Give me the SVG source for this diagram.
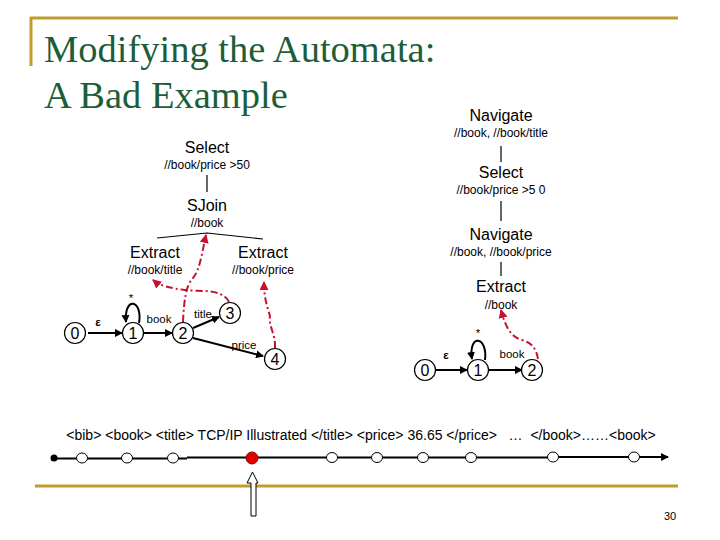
<svg xmlns="http://www.w3.org/2000/svg" width="720" height="540" viewBox="0 0 720 540">
<defs>
<style>
.t{font-family:"Liberation Sans",Arial,sans-serif;fill:#000;text-anchor:middle}
.op{font-size:16px}
.sub{font-size:12px}
.lbl{font-size:11.5px}
.num{font-size:16px}
.title{font-family:"Liberation Serif","Times New Roman",serif;font-size:38.5px;fill:#1d5e3a}
.edge{stroke:#000;stroke-width:2;fill:none}
.tree{stroke:#000;stroke-width:1.2;fill:none}
.st{fill:#fff;stroke:#000;stroke-width:1.2}
.red{stroke:#c8102e;stroke-width:2;fill:none;stroke-dasharray:7 3 2 3}
.gold{stroke:#bf9b30;stroke-width:3}
.tc{fill:#fff;stroke:#000;stroke-width:1}
</style>
<marker id="ah" markerWidth="8" markerHeight="8" refX="7" refY="4" orient="auto" markerUnits="userSpaceOnUse"><path d="M0,0 L8,4 L0,8 z" fill="#000"/></marker>
<marker id="rh" markerWidth="9" markerHeight="9" refX="8" refY="4.5" orient="auto" markerUnits="userSpaceOnUse"><path d="M0,0 L9,4.5 L0,9 z" fill="#c8102e"/></marker>
</defs>
<rect width="720" height="540" fill="#fff"/>
<g id="frame">
<line class="gold" x1="30" y1="18" x2="678" y2="18"/>
<line class="gold" x1="31" y1="17" x2="31" y2="66"/>
<line class="gold" x1="35" y1="486" x2="678" y2="486"/>
</g>
<g id="title">
<text class="title" x="44" y="62">Modifying the Automata:</text>
<text class="title" x="44" y="108">A Bad Example</text>
</g>
<g id="right-tree">
<g id="r-nav1"><text class="t op" x="501" y="121">Navigate</text><text class="t sub" x="501" y="137">//book, //book/title</text></g>
<g id="r-sel"><text class="t op" x="501" y="178">Select</text><text class="t sub" x="501" y="194">//book/price &gt;5 0</text></g>
<g id="r-nav2"><text class="t op" x="501" y="240">Navigate</text><text class="t sub" x="501" y="256">//book, //book/price</text></g>
<g id="r-ext"><text class="t op" x="501" y="292">Extract</text><text class="t sub" x="501" y="309">//book</text></g>
</g>
<g id="left-tree">
<g id="l-sel"><text class="t op" x="207" y="153">Select</text><text class="t sub" x="207" y="169">//book/price &gt;50</text></g>
<g id="l-sjoin"><text class="t op" x="207" y="211">SJoin</text><text class="t sub" x="207" y="227">//book</text></g>
<g id="l-ext1"><text class="t op" x="155" y="258">Extract</text><text class="t sub" x="155" y="274">//book/title</text></g>
<g id="l-ext2"><text class="t op" x="263" y="258">Extract</text><text class="t sub" x="263" y="274">//book/price</text></g>
</g>
<g id="connectors">
<line class="tree" x1="501" y1="146" x2="501" y2="162"/>
<line class="tree" x1="501" y1="201" x2="501" y2="221"/>
<line class="tree" x1="501" y1="262" x2="501" y2="276"/>
<line class="tree" x1="207" y1="175" x2="207" y2="192"/>
<polyline class="tree" points="157,238 207,233 263,239"/>
<line class="edge" x1="88" y1="333" x2="122" y2="333" marker-end="url(#ah)"/>
<line class="edge" x1="144" y1="333" x2="172" y2="333" marker-end="url(#ah)"/>
<line class="edge" x1="193" y1="328" x2="219" y2="317" marker-end="url(#ah)"/>
<line class="edge" x1="193" y1="338" x2="263" y2="356" marker-end="url(#ah)"/>
<path class="edge" d="M139,323 C143,300 124,295 126,322" marker-end="url(#ah)"/>
<line class="edge" x1="436" y1="370" x2="467" y2="370" marker-end="url(#ah)"/>
<line class="edge" x1="489" y1="370" x2="522" y2="370" marker-end="url(#ah)"/>
<path class="edge" d="M485,360 C488,336 468,333 472,359" marker-end="url(#ah)"/>
<path class="red" d="M183,322 C184,300 186,285 193,278 C200,270 202,252 206,235" marker-end="url(#rh)"/>
<path class="red" d="M229,302 C222,288 200,292 185,290 C170,288 160,286 153,280" marker-end="url(#rh)"/>
<path class="red" d="M275,348 C276,335 268,325 270,316 C267,306 264,298 264,282" marker-end="url(#rh)"/>
<path class="red" d="M538,359 C536,348 532,343 522,340 C510,337 505,325 501,310" marker-end="url(#rh)"/>
</g>
<g id="left-automaton">
<g id="la0"><circle class="st" cx="75" cy="333" r="10.5"/><text class="t num" x="75" y="339">0</text></g>
<g id="la1"><circle class="st" cx="133" cy="333" r="10.5"/><text class="t num" x="133" y="339">1</text></g>
<g id="la2"><circle class="st" cx="183" cy="333" r="10.5"/><text class="t num" x="183" y="339">2</text></g>
<g id="la3"><circle class="st" cx="230" cy="313" r="10.5"/><text class="t num" x="230" y="319">3</text></g>
<g id="la4"><circle class="st" cx="275" cy="359" r="10.5"/><text class="t num" x="275" y="365">4</text></g>
<text class="t lbl" x="98" y="326" font-weight="bold">ε</text>
<text class="t lbl" x="131" y="302">*</text>
<text class="t lbl" x="159" y="323">book</text>
<text class="t lbl" x="203" y="318">title</text>
<text class="t lbl" x="244" y="349">price</text>
</g>
<g id="right-automaton">
<g id="ra0"><circle class="st" cx="425" cy="370" r="10.5"/><text class="t num" x="425" y="376">0</text></g>
<g id="ra1"><circle class="st" cx="478" cy="370" r="10.5"/><text class="t num" x="478" y="376">1</text></g>
<g id="ra2"><circle class="st" cx="532" cy="370" r="10.5"/><text class="t num" x="532" y="376">2</text></g>
<text class="t lbl" x="446" y="359" font-weight="bold">ε</text>
<text class="t lbl" x="478" y="337">*</text>
<text class="t lbl" x="512" y="358">book</text>
</g>
<g id="stream">
<text class="t" x="361" y="440" font-size="14" style="white-space:pre">&lt;bib&gt; &lt;book&gt; &lt;title&gt; TCP/IP Illustrated &lt;/title&gt; &lt;price&gt; 36.65 &lt;/price&gt;   …  &lt;/book&gt;……&lt;book&gt;</text>
<line x1="54" y1="458.5" x2="187" y2="458.5" stroke="#000" stroke-width="2"/>
<line x1="187" y1="457.5" x2="552" y2="457.5" stroke="#000" stroke-width="2"/>
<line x1="552" y1="457" x2="668" y2="457" stroke="#000" stroke-width="2" marker-end="url(#ah)"/>
<circle cx="54" cy="458" r="3.5" fill="#000"/>
<ellipse class="tc" cx="82" cy="458" rx="5.5" ry="5"/>
<ellipse class="tc" cx="127" cy="458" rx="5.5" ry="5"/>
<ellipse class="tc" cx="173" cy="458" rx="5.5" ry="5"/>
<circle cx="252" cy="458" r="6" fill="#e00000" stroke="#900" stroke-width="1"/>
<ellipse class="tc" cx="332" cy="457.5" rx="5.5" ry="5"/>
<ellipse class="tc" cx="377" cy="457.5" rx="5.5" ry="5"/>
<ellipse class="tc" cx="423" cy="457.5" rx="5.5" ry="5"/>
<ellipse class="tc" cx="471" cy="457.5" rx="5.5" ry="5"/>
<ellipse class="tc" cx="553" cy="457" rx="5.5" ry="5"/>
<ellipse class="tc" cx="634" cy="457" rx="5.5" ry="5"/>
<path d="M252.5,472 L258,483 L256,483 L256,516 L251,516 L251,483 L247,483 Z" fill="#fff" stroke="#000" stroke-width="1"/>
</g>
<text class="t" x="670" y="520" font-size="11">30</text>
</svg>
